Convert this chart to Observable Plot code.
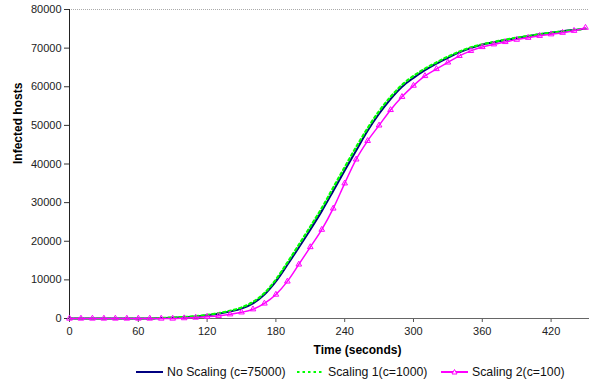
<!DOCTYPE html>
<html>
<head>
<meta charset="utf-8">
<script src="https://cdn.jsdelivr.net/npm/d3@7"></script>
<script src="https://cdn.jsdelivr.net/npm/@observablehq/plot@0.6"></script>
<style>
  html, body { margin: 0; padding: 0; background: #fff; }
  #wrap { position: relative; width: 590px; height: 385px; font-family: "Liberation Sans", Arial, sans-serif; }
  .leg { position: absolute; top: 364px; height: 16px; display: flex; align-items: center; font-size: 12.3px; color: #111; white-space: nowrap; }
  .leg svg { display: block; margin-right: 3px; }
</style>
</head>
<body>
<div id="wrap"></div>
<script>
const time = [0,10,20,30,40,50,60,70,80,90,100,110,120,130,140,150,160,170,180,190,200,210,220,230,240,250,260,270,280,290,300,310,320,330,340,350,360,370,380,390,400,410,420,430,440,450];
const noScaling = [0,0,0,0,0,0,0,0,100,200,350,550,850,1250,1800,2550,3900,6200,9600,13900,18400,23000,27800,33000,38300,43500,48600,53000,56800,60000,62300,64300,66000,67500,68900,70000,70900,71500,72100,72600,73100,73600,74000,74400,74700,75000];
const scaling1 = [0,0,0,0,0,0,0,0,150,250,400,620,950,1400,2000,2850,4300,6600,10100,14500,19100,23800,28600,33900,39200,44400,49300,53700,57400,60500,62800,64700,66300,67800,69100,70200,71000,71600,72200,72700,73150,73600,74000,74350,74700,75000];
const scaling2 = [0,0,0,0,0,0,0,0,0,0,100,250,450,700,1100,1600,2400,3900,6200,9600,14000,18500,23000,28500,35000,41200,46000,50000,54000,57400,60300,62800,64600,66300,68000,69300,70300,71000,71600,72200,72700,73200,73600,74000,74500,75300];
const xTicks = [0,60,120,180,240,300,360,420];
const yTicks = [0,10000,20000,30000,40000,50000,60000,70000,80000];
const seriesNames = ["No Scaling (c=75000)", "Scaling 1(c=1000)", "Scaling 2(c=100)"];
const seriesColors = ["#000080", "#00ff00", "#ff00ff"];

const rows = (vals) => time.map((t, i) => ({t, v: vals[i]}));
const dBlack = rows(noScaling), dGreen = rows(scaling1), dPink = rows(scaling2);

const chart = Plot.plot({
  width: 590,
  height: 362,
  marginLeft: 69,
  marginRight: 1,
  marginTop: 9,
  marginBottom: 44,
  style: {fontFamily: '"Liberation Sans", Arial, sans-serif', fontSize: "11px", color: "#222", background: "#fff"},
  x: {domain: [0, 453.5]},
  y: {domain: [0, 80000]},
  marks: [
    Plot.axisX({ticks: xTicks, tickSize: 4, tickPadding: 5, label: null, stroke: "#555", fontSize: 11}),
    Plot.axisY({ticks: yTicks, tickSize: 5, tickPadding: 3, label: null, stroke: "#333", fontSize: 11, tickFormat: d => String(d)}),
    Plot.ruleY([80000], {stroke: "#aaa", strokeDasharray: "1,1", strokeWidth: 1}),
    Plot.ruleY([0], {stroke: "#666", strokeWidth: 1}),
    Plot.ruleX([0], {stroke: "#222", strokeWidth: 1}),
    Plot.line(dBlack, {x: "t", y: "v", stroke: seriesColors[0], strokeWidth: 2, curve: "monotone-x"}),
    Plot.line(dGreen, {x: "t", y: "v", stroke: seriesColors[1], strokeWidth: 2.2, strokeDasharray: "2.5,3", curve: "monotone-x"}),
    Plot.line(dPink, {x: "t", y: "v", stroke: seriesColors[2], strokeWidth: 1.5, curve: "monotone-x"}),
    Plot.dot(dPink, {x: "t", y: "v", symbol: "triangle", r: 2.1, stroke: seriesColors[2], fill: "none", strokeWidth: 1}),
    Plot.text(["Time (seconds)"], {frameAnchor: "bottom", dx: 28, dy: 35, fontWeight: "bold", fontSize: 12, fill: "#000"}),
    Plot.text(["Infected hosts"], {frameAnchor: "left", dx: -51, rotate: -90, fontWeight: "bold", fontSize: 12, fill: "#000"})
  ]
});
const wrap = document.getElementById("wrap");
wrap.appendChild(chart);

const legPos = [136, 297, 441];
seriesNames.forEach((name, i) => {
  const item = document.createElement("div");
  item.className = "leg";
  item.style.left = legPos[i] + "px";
  const c = seriesColors[i];
  let sw = `<svg width="28" height="10">`;
  if (i === 0) sw += `<line x1="0" y1="5" x2="27" y2="5" stroke="${c}" stroke-width="2"/>`;
  if (i === 1) sw += `<line x1="0" y1="5" x2="27" y2="5" stroke="${c}" stroke-width="2" stroke-dasharray="2.5,3"/>`;
  if (i === 2) sw += `<line x1="0" y1="5" x2="27" y2="5" stroke="${c}" stroke-width="2"/><path d="M13.5,2.5 L16,7 L11,7 Z" fill="#fff" stroke="${c}" stroke-width="1"/>`;
  sw += `</svg>`;
  item.innerHTML = sw + `<span>${name}</span>`;
  wrap.appendChild(item);
});
</script>
</body>
</html>
